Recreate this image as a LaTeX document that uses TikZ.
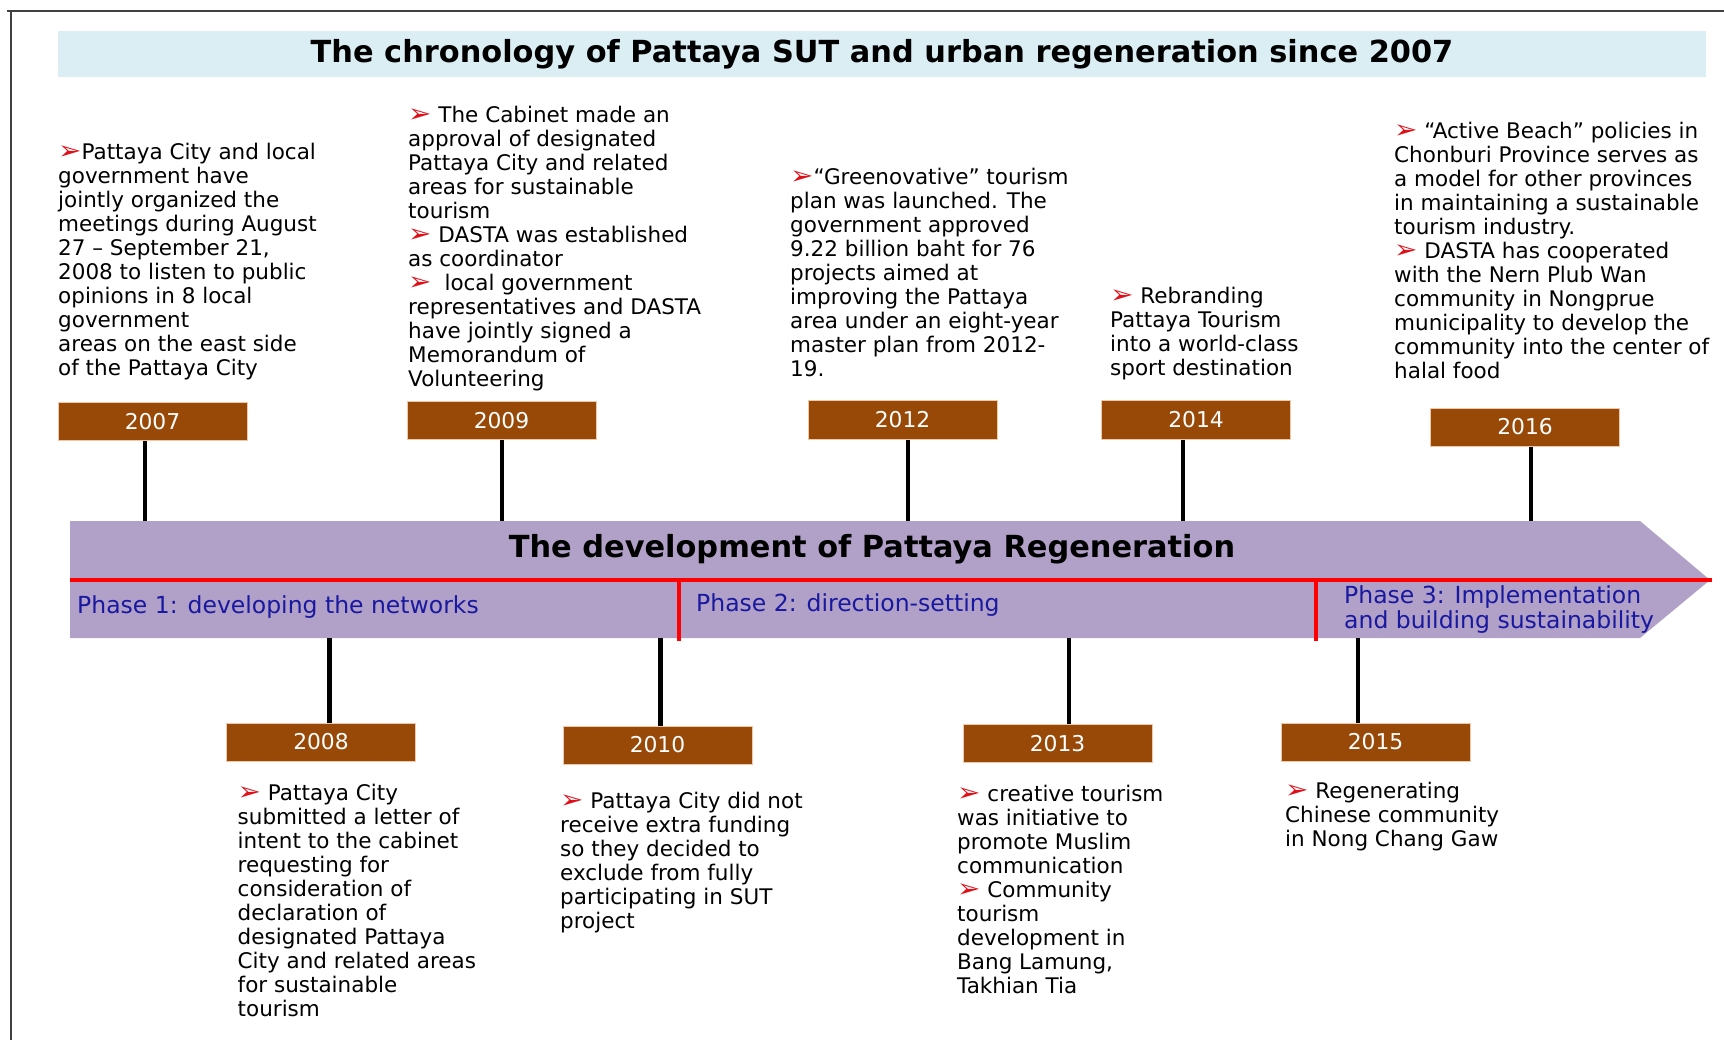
\documentclass[tikz,border=0pt]{standalone}
\usepackage{fontspec}
\usepackage{graphicx}
\setmainfont{DejaVu Sans}
\definecolor{bandblue}{HTML}{DAEEF3}
\definecolor{boxbrown}{HTML}{984807}
\definecolor{boxedge}{HTML}{F2C9A8}
\definecolor{lav}{HTML}{B1A0C7}
\definecolor{phaseblue}{HTML}{1818A0}
\definecolor{bulred}{HTML}{E0101A}
\definecolor{framegray}{HTML}{404040}
\newcommand{\bul}{{\color{bulred}\scalebox{1.3}[1.2]{➢}}}
\newcommand{\tblk}[1]{\parbox[t]{420pt}{\raggedright\fontsize{21.5}{24}\selectfont\leavevmode #1}}
\newcommand{\pblk}[1]{\parbox[t]{420pt}{\raggedright\fontsize{23.5}{25}\selectfont\leavevmode #1}}
\begin{document}
\begin{tikzpicture}[x=1pt,y=-1pt,
  yearbox/.style={fill=boxbrown, draw=boxedge, line width=1pt, text=white,
    font=\fontsize{21.8}{24}\selectfont, minimum width=189pt, minimum height=38pt, inner sep=0pt},
  txt/.style={anchor=base west, inner sep=0pt},
  stem/.style={line width=4.5pt, black},
  phase/.style={anchor=base west, inner sep=0pt, text=phaseblue},
  redline/.style={line width=4pt, red},
  framer/.style={line width=2.5pt, framegray}]

\useasboundingbox (0,0) rectangle (1724,1040);
\fill[white] (0,0) rectangle (1724,1040);

% frame
\draw[framer] (7,11) -- (1724,11);
\draw[framer] (11,11) -- (11,1040);

% title band
\node[fill=bandblue, minimum width=1648pt, minimum height=46pt, inner sep=0pt,
      font=\bfseries\fontsize{30.4}{36}\selectfont] (title) at (882,54)
      {The chronology of Pattaya SUT and urban regeneration since 2007};

% main arrow
\fill[lav] (70,521) -- (1640,521) -- (1710,580) -- (1640,638) -- (70,638) -- cycle;
\coordinate (rl) at (70,580);
\coordinate (rr) at (1712,580);
\draw[redline] (rl) -- (rr);
\coordinate (s12a) at (679,580);
\coordinate (s12b) at (679,641);
\coordinate (s23a) at (1316,580);
\coordinate (s23b) at (1316,641);
\draw[redline] (s12a) -- (s12b);
\draw[redline] (s23a) -- (s23b);

\node[font=\bfseries\fontsize{30.4}{34}\selectfont, anchor=base, inner sep=0pt] (devt) at (872,557)
  {The development of Pattaya Regeneration};

\node[phase] (p1) at (77,613) {\fontsize{23.5}{25}\selectfont Phase 1: developing the networks};
\node[phase] (p2) at (696,611) {\fontsize{23.5}{25}\selectfont Phase 2: direction-setting};
\node[phase] (p3) at (1344,603) {\pblk{Phase 3: Implementation\\and building sustainability}};

% year boxes
\node[yearbox] (y2007) at (152.5,421.5) {2007};
\node[yearbox] (y2009) at (501.5,420.5) {2009};
\node[yearbox] (y2012) at (902.5,420) {2012};
\node[yearbox] (y2014) at (1196,420) {2014};
\node[yearbox] (y2016) at (1525,427) {2016};
\node[yearbox] (y2008) at (321,742) {2008};
\node[yearbox] (y2010) at (657.5,745) {2010};
\node[yearbox] (y2013) at (1057.5,743.5) {2013};
\node[yearbox] (y2015) at (1375.5,742) {2015};

% stems
\coordinate (t2007) at (145,521);
\coordinate (t2009) at (502,521);
\coordinate (t2012) at (908,521);
\coordinate (t2014) at (1183,521);
\coordinate (t2016) at (1531,521);
\coordinate (b2008) at (329.5,638);
\coordinate (b2010) at (660.5,638);
\coordinate (b2013) at (1069,638);
\coordinate (b2015) at (1358,638);
\draw[stem] (y2007.south -| t2007) -- (t2007);
\draw[stem] (y2009.south -| t2009) -- (t2009);
\draw[stem] (y2012.south -| t2012) -- (t2012);
\draw[stem] (y2014.south -| t2014) -- (t2014);
\draw[stem] (y2016.south -| t2016) -- (t2016);
\draw[stem] (b2008) -- (y2008.north -| b2008);
\draw[stem] (b2010) -- (y2010.north -| b2010);
\draw[stem] (b2013) -- (y2013.north -| b2013);
\draw[stem] (b2015) -- (y2015.north -| b2015);

% texts above
\node[txt] (d2007) at (58,160) {\tblk{\bul{}Pattaya City and local\\government have\\jointly organized the\\meetings during August\\27 – September 21,\\2008 to listen to public\\opinions in 8 local\\government\\areas on the east side\\of the Pattaya City}};
\node[txt] (d2009) at (408,123) {\tblk{\bul\ The Cabinet made an\\approval of designated\\Pattaya City and related\\areas for sustainable\\tourism\\\bul\ DASTA was established\\as coordinator\\\bul\hspace{0.6em}local government\\representatives and DASTA\\have jointly signed a\\Memorandum of\\Volunteering}};
\node[txt] (d2012) at (790,185) {\tblk{\bul{}“Greenovative” tourism\\plan was launched. The\\government approved\\9.22 billion baht for 76\\projects aimed at\\improving the Pattaya\\area under an eight-year\\master plan from 2012-\\19.}};
\node[txt] (d2014) at (1110,303.5) {\tblk{\bul\ Rebranding\\Pattaya Tourism\\into a world-class\\sport destination}};
\node[txt] (d2016) at (1394,138.5) {\tblk{\bul\ “Active Beach” policies in\\Chonburi Province serves as\\a model for other provinces\\in maintaining a sustainable\\tourism industry.\\\bul\ DASTA has cooperated\\with the Nern Plub Wan\\community in Nongprue\\municipality to develop the\\community into the center of\\halal food}};

% texts below
\node[txt] (d2008) at (237.5,800) {\tblk{\bul\ Pattaya City\\submitted a letter of\\intent to the cabinet\\requesting for\\consideration of\\declaration of\\designated Pattaya\\City and related areas\\for sustainable\\tourism}};
\node[txt] (d2010) at (560,808) {\tblk{\bul\ Pattaya City did not\\receive extra funding\\so they decided to\\exclude from fully\\participating in SUT\\project}};
\node[txt] (d2013) at (957,801.5) {\tblk{\bul\ creative tourism\\was initiative to\\promote Muslim\\communication\\\bul\ Community\\tourism\\development in\\Bang Lamung,\\Takhian Tia}};
\node[txt] (d2015) at (1285,798) {\tblk{\bul\ Regenerating\\Chinese community\\in Nong Chang Gaw}};

\end{tikzpicture}
\end{document}
